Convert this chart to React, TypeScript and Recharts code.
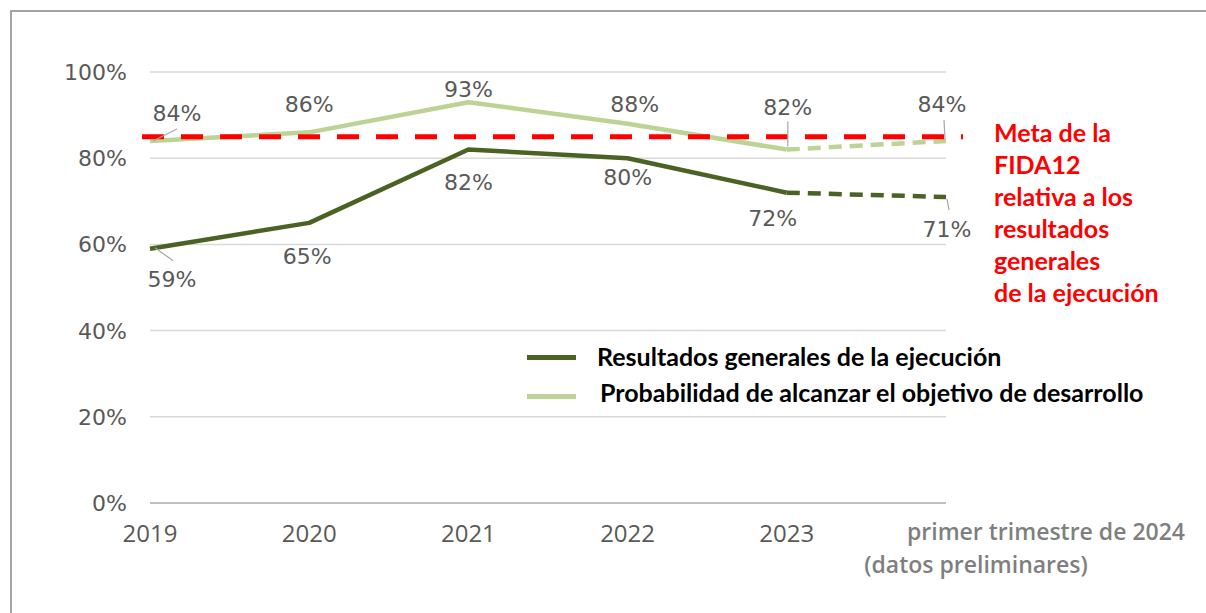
import React from 'react';
import { LineChart, Line, XAxis, YAxis, CartesianGrid, ReferenceLine, LabelList, Legend } from 'recharts';

const categories = ['2019', '2020', '2021', '2022', '2023', 'primer trimestre de 2024'];
const resultados = [59, 65, 82, 80, 72, 71];
const probabilidad = [84, 86, 93, 88, 82, 84];
const metaValue = 85;
const yTicks = [0, 20, 40, 60, 80, 100];
const lastTickLines = ['primer trimestre de 2024', '(datos preliminares)'];
const metaLines = ['Meta de la', 'FIDA12', 'relativa a los', 'resultados', 'generales', 'de la ejecución'];
const seriesNames = ['Resultados generales de la ejecución', 'Probabilidad de alcanzar el objetivo de desarrollo'];

const PRELIM_FROM = 4; // index where the preliminary (dashed) segment starts

const data = categories.map((c, i) => ({
  year: c,
  resSolid: i <= PRELIM_FROM ? resultados[i] : null,
  resDash: i >= PRELIM_FROM ? resultados[i] : null,
  probSolid: i <= PRELIM_FROM ? probabilidad[i] : null,
  probDash: i >= PRELIM_FROM ? probabilidad[i] : null,
}));

const DARK = '#4a6224';
const LIGHT = '#bcd395';
const GRAY_TEXT = '#595959';
const LEADER = '#a6a6a6';

// label placement styling (offsets from the point, optional leader line)
const LIGHT_LABELS = [
  { dx: 27, dy: -20, leader: [3, 0, 27, -12] },
  { dx: 0, dy: -20 },
  { dx: 0, dy: -5 },
  { dx: 7, dy: -12 },
  { dx: 1, dy: -35, leader: [1, -3, 1, -28] },
  { dx: -4, dy: -29, leader: [-1, -1, -2, -21] },
];
const DARK_LABELS = [
  { dx: 22, dy: 38, leader: [5, -1, 23, 12] },
  { dx: -2, dy: 41 },
  { dx: 0, dy: 40 },
  { dx: 0, dy: 27 },
  { dx: -14, dy: 33 },
  { dx: 1, dy: 40, leader: [1, 2, 3, 13] },
];

const makeLabel = (offsets: any[], skip: number[]) => (props: any) => {
  const { x, y, value, index } = props;
  if (value == null || skip.includes(index)) return null;
  const o = offsets[index];
  return (
    <g>
      {o.leader && (
        <line
          x1={x + o.leader[0]}
          y1={y + o.leader[1]}
          x2={x + o.leader[2]}
          y2={y + o.leader[3]}
          stroke={LEADER}
          strokeWidth={1.2}
        />
      )}
      <text
        x={x + o.dx}
        y={y + o.dy}
        textAnchor="middle"
        fontFamily="'DejaVu Sans', Verdana, sans-serif"
        fontSize={22}
        fill={GRAY_TEXT}
      >
        {`${value}%`}
      </text>
    </g>
  );
};

const XTick = (props: any) => {
  const { x, y, payload, index } = props;
  if (index === categories.length - 1) {
    return (
      <g>
        <text x={x + 100} y={y + 37} textAnchor="middle" fontFamily="'Open Sans', sans-serif" fontWeight={600} fontSize={23} fill="#7f7f7f">
          {lastTickLines[0]}
        </text>
        <text x={x + 30} y={y + 70} textAnchor="middle" fontFamily="'Open Sans', sans-serif" fontWeight={600} fontSize={23} fill="#7f7f7f">
          {lastTickLines[1]}
        </text>
      </g>
    );
  }
  return (
    <text x={x} y={y + 39} textAnchor="middle" fontFamily="'Open Sans', sans-serif" fontSize={24} fill={GRAY_TEXT}>
      {payload.value}
    </text>
  );
};

const YTick = (props: any) => {
  const { x, y, payload } = props;
  return (
    <text x={x} y={y} dy={8} textAnchor="end" fontFamily="'DejaVu Sans', Verdana, sans-serif" fontSize={22} fill={GRAY_TEXT}>
      {`${payload.value}%`}
    </text>
  );
};

const MetaLine = (props: any) => {
  const { x1, y1, x2, y2 } = props;
  return <line x1={x1 - 8} y1={y1} x2={x2 + 17} y2={y2} stroke="#ff0000" strokeWidth={5} strokeDasharray="22 17" />;
};

const MetaLabel = (props: any) => {
  const vb = props.viewBox || {};
  const x = (vb.x || 0) + (vb.width || 0) + 48;
  const y = (vb.y || 0) + 5;
  return (
    <text fontFamily="Lato, sans-serif" fontWeight={700} fontSize={25} fill="#ff0000">
      {metaLines.map((t, i) => (
        <tspan key={i} x={x} y={y + i * 32}>
          {t}
        </tspan>
      ))}
    </text>
  );
};

const LegendContent = () => (
  <div style={{ position: 'relative', width: 1206, height: 613, pointerEvents: 'none' }}>
    {[
      { name: seriesNames[0], color: DARK, top: 357, textLeft: 597 },
      { name: seriesNames[1], color: LIGHT, top: 396, textLeft: 600 },
    ].map((it, i) => (
      <React.Fragment key={i}>
        <div style={{ position: 'absolute', left: 527, top: it.top - 2.5, width: 49, height: 5, background: it.color }} />
        <div
          style={{
            position: 'absolute',
            left: it.textLeft,
            top: it.top - 16 - (i === 1 ? 3 : 0),
            fontFamily: 'Lato, sans-serif',
            fontWeight: 700,
            fontSize: 25,
            lineHeight: '30px',
            color: '#000',
            whiteSpace: 'nowrap',
          }}
        >
          {it.name}
        </div>
      </React.Fragment>
    ))}
  </div>
);

export default function App() {
  return (
    <div style={{ position: 'fixed', left: 0, top: 0, width: 1206, height: 613, overflow: 'hidden', background: '#fff' }}>
      <div
        style={{
          position: 'absolute',
          left: 10,
          top: 10,
          width: 1400,
          height: 800,
          borderTop: '2px solid #a5a5a5',
          borderLeft: '2px solid #a5a5a5',
        }}
      />
      <div style={{ position: 'absolute', left: 0, top: 0 }}>
        <LineChart width={1206} height={613} data={data} margin={{ top: 72, right: 260, bottom: 50, left: 0 }}>
          <CartesianGrid vertical={false} stroke="#d9d9d9" strokeWidth={1.5} />
          <XAxis
            dataKey="year"
            height={60}
            tickLine={false}
            tickSize={0}
            tickMargin={0}
            axisLine={{ stroke: '#bfbfbf', strokeWidth: 2 }}
            tick={<XTick />}
            interval={0}
          />
          <YAxis
            width={150}
            domain={[0, 100]}
            ticks={yTicks}
            tickLine={false}
            tickSize={0}
            tickMargin={23}
            axisLine={false}
            tick={<YTick />}
          />
          <Legend
            layout="horizontal"
            verticalAlign="middle"
            align="center"
            content={<LegendContent />}
            wrapperStyle={{ left: 0, top: 0, width: 1206, height: 613 }}
          />
          <Line dataKey="probSolid" stroke={LIGHT} strokeWidth={4.5} dot={false} isAnimationActive={false} strokeLinejoin="round">
            <LabelList dataKey="probSolid" content={makeLabel(LIGHT_LABELS, [])} />
          </Line>
          <Line dataKey="probDash" stroke={LIGHT} strokeWidth={4.5} strokeDasharray="13 8" dot={false} isAnimationActive={false}>
            <LabelList dataKey="probDash" content={makeLabel(LIGHT_LABELS, [PRELIM_FROM])} />
          </Line>
          <Line dataKey="resSolid" stroke={DARK} strokeWidth={4.5} dot={false} isAnimationActive={false} strokeLinejoin="round">
            <LabelList dataKey="resSolid" content={makeLabel(DARK_LABELS, [])} />
          </Line>
          <Line dataKey="resDash" stroke={DARK} strokeWidth={4.5} strokeDasharray="13 8" dot={false} isAnimationActive={false}>
            <LabelList dataKey="resDash" content={makeLabel(DARK_LABELS, [PRELIM_FROM])} />
          </Line>
          <ReferenceLine y={metaValue} shape={<MetaLine />} label={<MetaLabel />} ifOverflow="visible" />
        </LineChart>
      </div>
    </div>
  );
}
